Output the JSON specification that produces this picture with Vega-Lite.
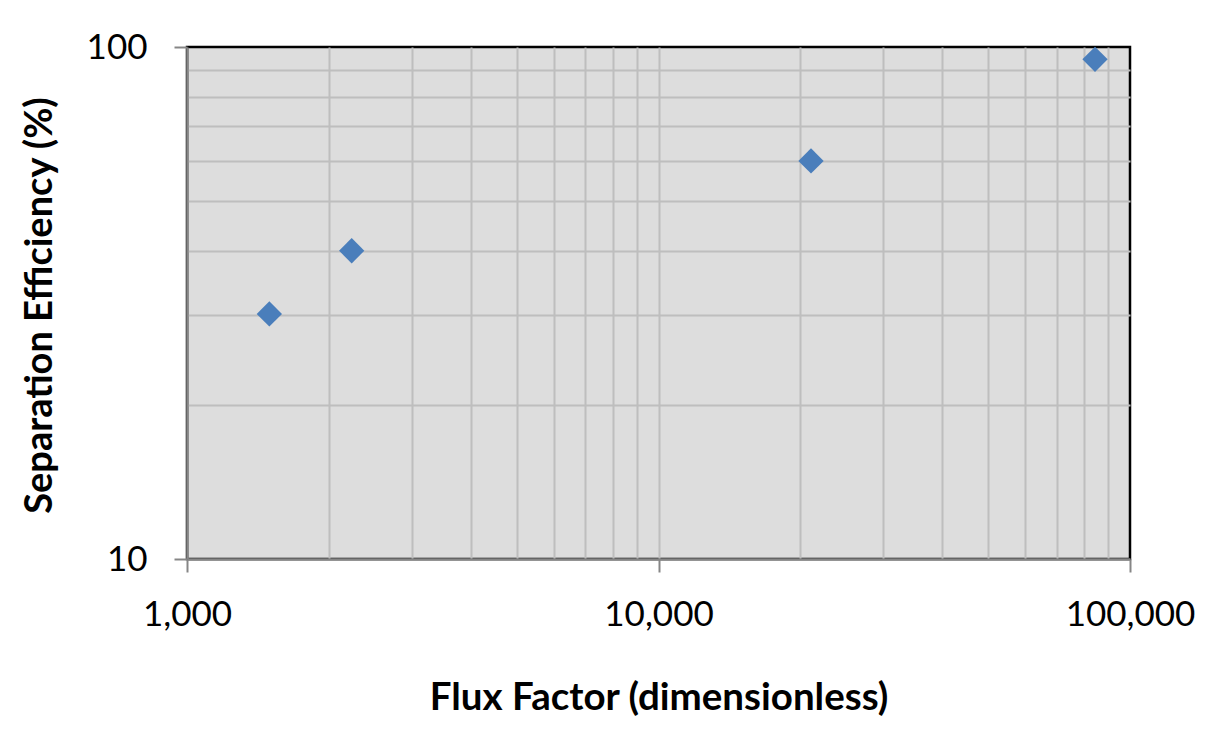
{
  "$schema": "https://vega.github.io/schema/vega-lite/v6.json",
  "autosize": "none",
  "width": 943,
  "height": 512,
  "padding": {"left": 187, "top": 47, "right": 87, "bottom": 172},
  "background": "white",
  "config": {
    "view": {"fill": "#dddddd", "stroke": "#000000", "strokeWidth": 2.5},
    "font": "Lato"
  },
  "data": {
    "values": [
      {"flux": 1495, "eff": 30.1},
      {"flux": 2235, "eff": 40.0},
      {"flux": 21060, "eff": 59.9},
      {"flux": 84300, "eff": 94.6}
    ]
  },
  "mark": {"type": "point", "shape": "diamond", "filled": true, "size": 640, "color": "#4a7ebb", "opacity": 1},
  "encoding": {
    "x": {
      "field": "flux",
      "type": "quantitative",
      "scale": {"type": "log", "domain": [1000, 100000], "nice": false},
      "axis": {
        "values": [1000, 2000, 3000, 4000, 5000, 6000, 7000, 8000, 9000, 10000, 20000, 30000, 40000, 50000, 60000, 70000, 80000, 90000, 100000],
        "format": ",",
        "labelExpr": "indexof([1000,10000,100000], datum.value) >= 0 ? datum.label : ''",
        "grid": true, "gridColor": "#bebebe", "gridWidth": 2,
        "gridOpacity": {"condition": {"test": "datum.value == 1000 || datum.value == 100000", "value": 0}, "value": 1},
        "domain": true, "domainColor": "#868686", "domainWidth": 2.5,
        "ticks": true, "tickColor": "#868686", "tickWidth": 2, "tickSize": 13,
        "tickOpacity": {"condition": {"test": "indexof([1000,10000,100000], datum.value) >= 0", "value": 1}, "value": 0},
        "labelFontSize": 35, "labelColor": "#000000", "labelPadding": 25, "labelFont": "Lato",
        "labelFlush": false, "labelOverlap": false,
        "title": "Flux Factor (dimensionless)",
        "titleFont": "Lato", "titleFontWeight": "bold", "titleFontSize": 38.5, "titleColor": "#000000",
        "titleY": 138, "titleBaseline": "middle"
      }
    },
    "y": {
      "field": "eff",
      "type": "quantitative",
      "scale": {"type": "log", "domain": [10, 100], "nice": false},
      "axis": {
        "values": [10, 20, 30, 40, 50, 60, 70, 80, 90, 100],
        "format": "d",
        "labelExpr": "datum.value == 10 || datum.value == 100 ? datum.label : ''",
        "grid": true, "gridColor": "#bebebe", "gridWidth": 2,
        "gridOpacity": {"condition": {"test": "datum.value == 10 || datum.value == 100", "value": 0}, "value": 1},
        "domain": true, "domainColor": "#868686", "domainWidth": 2.5,
        "ticks": true, "tickColor": "#868686", "tickWidth": 2, "tickSize": 13,
        "tickOpacity": {"condition": {"test": "datum.value == 10 || datum.value == 100", "value": 1}, "value": 0},
        "labelFontSize": 35, "labelColor": "#000000", "labelPadding": 27, "labelFont": "Lato",
        "labelFlush": false, "labelOverlap": false,
        "title": "Separation Efficiency (%)",
        "titleFont": "Lato", "titleFontWeight": "bold", "titleFontSize": 38, "titleColor": "#000000",
        "titleX": -147, "titleY": 258, "titleBaseline": "middle"
      }
    }
  }
}
